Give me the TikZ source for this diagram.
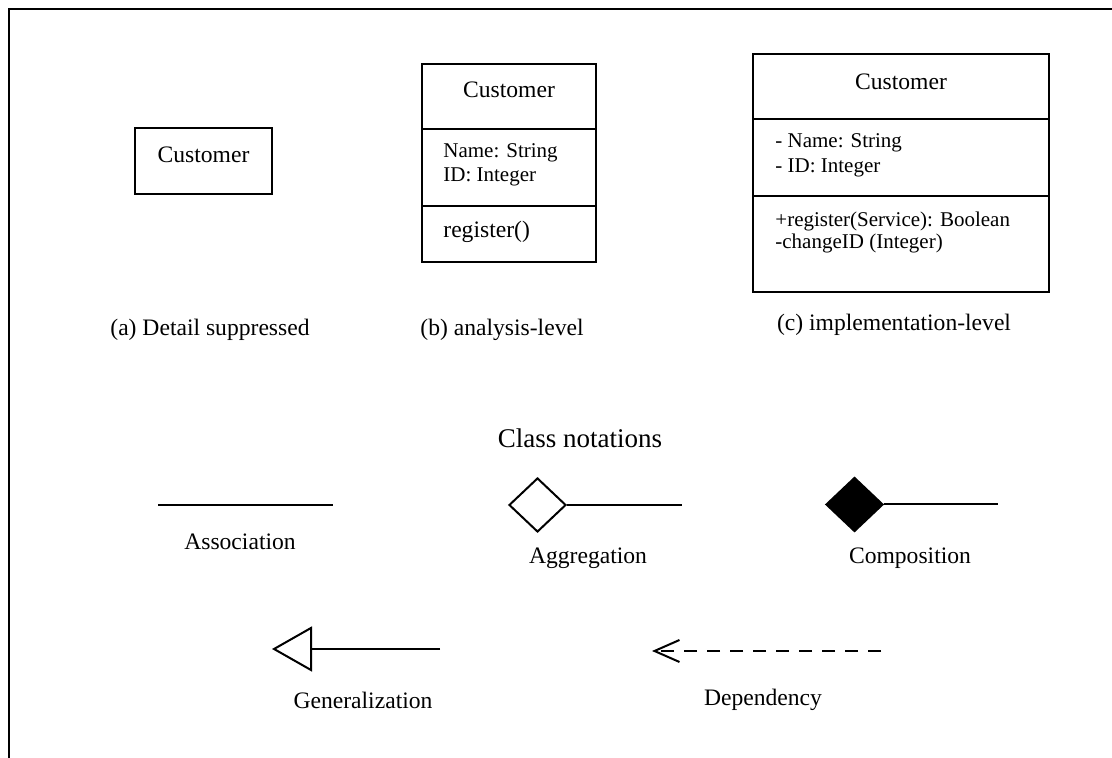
\documentclass[tikz,border=0pt]{standalone}
\usepackage{fontspec}
\setmainfont{Liberation Serif}
\usetikzlibrary{arrows.meta,shapes.geometric}

\begin{document}
\begin{tikzpicture}[x=50pt,y=50pt,
    ln/.style={line width=1pt},
    lbl/.style={inner sep=0pt,font=\fontsize{11.8}{14}\selectfont},
    small/.style={inner sep=0pt,anchor=west,align=left},
    dia/.style={diamond,draw,line width=1pt,inner sep=0pt,minimum width=28.5pt,minimum height=27pt}]

\useasboundingbox (0,0) rectangle (11.12,7.58);

    % frame (top and left only)
    \draw[ln] (0.09,0) -- (0.09,7.49) -- (11.12,7.49);

    % (a) detail suppressed
    \draw[ln] (1.35,5.64) rectangle (2.72,6.30);
    \node[lbl] (custA) at (2.035,6.03) {Customer};

    % (b) analysis-level
    \draw[ln] (4.22,4.96) rectangle (5.96,6.94);
    \draw[ln] (4.22,6.29) -- (5.96,6.29);
    \draw[ln] (4.22,5.52) -- (5.96,5.52);
    \node[lbl] (custB) at (5.09,6.68) {Customer};
    \node[small,font=\fontsize{10.5}{12}\selectfont] (attrB) at (4.43,5.93) {Name: String\\ID: Integer};
    \node[lbl,anchor=west] (opB) at (4.43,5.26) {register()};

    % (c) implementation-level
    \draw[ln] (7.53,4.66) rectangle (10.49,7.04);
    \draw[ln] (7.53,6.39) -- (10.49,6.39);
    \draw[ln] (7.53,5.62) -- (10.49,5.62);
    \node[lbl] (custC) at (9.01,6.76) {Customer};
    \node[small,font=\fontsize{10.5}{12.5}\selectfont] (attrC) at (7.75,6.025) {- Name: String\\- ID: Integer};
    \node[small,font=\fontsize{10.5}{10.8}\selectfont] (opC) at (7.75,5.255) {+register(Service): Boolean\\-changeID (Integer)};

    % captions
    \node[lbl] (capA) at (2.10,4.28) {(a) Detail suppressed};
    \node[lbl] (capB) at (5.02,4.28) {(b) analysis-level};
    \node[lbl] (capC) at (8.94,4.33) {(c) implementation-level};
    \node[lbl,font=\fontsize{13.5}{16}\selectfont] (title) at (5.80,3.20) {Class notations};

    % association
    \coordinate (asL) at (1.58,2.53);
    \coordinate (asR) at (3.33,2.53);
    \draw[ln] (asL) -- (asR);
    \node[lbl] (asLbl) at (2.40,2.16) {Association};

    % aggregation
    \node[dia] (agg) at (5.375,2.53) {};
    \coordinate (agR) at (6.82,2.53);
    \draw[ln] (agg.east) -- (agR);
    \node[lbl] (agLbl) at (5.88,2.00) {Aggregation};

    % composition
    \node[dia,fill=black] (comp) at (8.545,2.535) {};
    \coordinate (coR) at (9.98,2.535);
    \draw[ln] (comp.east) -- (coR);
    \node[lbl] (coLbl) at (9.10,2.00) {Composition};

    % generalization
    \coordinate (geR) at (4.40,1.09);
    \coordinate (geL) at (2.72,1.09);
    \draw[ln,-{Triangle[open,length=20pt,width=22.5pt]}] (geR) -- (geL);
    \node[lbl] (geLbl) at (3.63,0.58) {Generalization};

    % dependency
    \coordinate (deR) at (8.81,1.07);
    \coordinate (deL) at (6.52,1.07);
    \draw[ln,dash pattern=on 6.5pt off 5pt,-{Straight Barb[length=12.5pt,width=11pt]}] (deR) -- (deL);
    \node[lbl] (deLbl) at (7.63,0.58) {Dependency};

\end{tikzpicture}
\end{document}
